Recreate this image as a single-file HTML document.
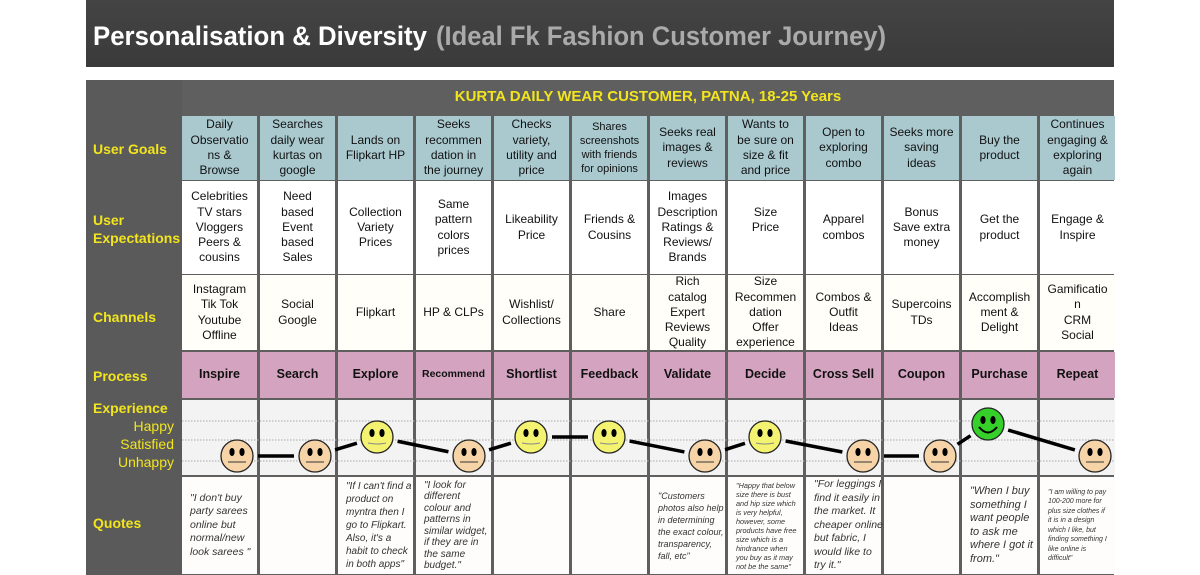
<!DOCTYPE html>
<html><head><meta charset="utf-8"><style>
*{margin:0;padding:0;box-sizing:border-box}
body{width:1200px;height:575px;background:#fff;position:relative;overflow:hidden;font-family:"Liberation Sans",sans-serif}
.a{position:absolute}
.c{position:absolute;display:flex;align-items:center;justify-content:center;text-align:center;font-size:12px;line-height:15.3px;color:#111;white-space:nowrap}
.c span{display:block}
.g{background:#a9c9cf}
.e{background:#fff}
.ch{background:#fffef8}
.p{background:#d4a3bf;font-weight:bold;font-size:12.5px}
.x{background:#f3f3f3}
.q{background:#fffdfb;font-style:italic;font-size:10.5px;line-height:13.5px;color:#333;justify-content:flex-start;text-align:left;padding-left:8px}
.l{position:absolute;color:#f2e51d;font-weight:bold;font-size:14px;line-height:18px}
</style></head><body>
<div class="a" style="left:86px;top:0;width:1028px;height:67px;background:linear-gradient(#444,#3a3a3a)"></div>
<svg class="a" style="left:0;top:0" width="1200" height="67"><text x="93" y="45" font-family="Liberation Sans" font-weight="bold" font-size="27" fill="#fff" textLength="334" lengthAdjust="spacingAndGlyphs">Personalisation &amp; Diversity</text><text x="436" y="45" font-family="Liberation Sans" font-weight="bold" font-size="27" fill="#aaa" textLength="450" lengthAdjust="spacingAndGlyphs">(Ideal Fk Fashion Customer Journey)</text></svg>
<div class="a" style="left:86px;top:80px;width:1028px;height:495px;background:#5a5a5a"></div>
<div class="a" style="left:182px;top:80px;width:932px;height:495px;background:#5f5f5f"></div>
<div class="a" style="left:182px;top:88px;width:932px;text-align:center;color:#f2e51d;font-weight:bold;font-size:15px">KURTA DAILY WEAR CUSTOMER, PATNA, 18-25 Years</div>
<div class="l" style="left:93px;top:140px">User Goals</div>
<div class="l" style="left:93px;top:211px">User<br>Expectations</div>
<div class="l" style="left:93px;top:308px">Channels</div>
<div class="l" style="left:93px;top:367px">Process</div>
<div class="l" style="left:93px;top:399px">Experience</div>
<div class="l" style="left:100px;top:417px;width:74px;text-align:right;font-weight:normal;font-size:14px;line-height:18px">Happy<br>Satisfied<br>Unhappy</div>
<div class="l" style="left:93px;top:514px">Quotes</div>
<div id="grid"></div>
<svg class="a" style="left:0;top:0" width="1200" height="575" id="sv"></svg>
<script>
var X=[182,260,338,416,494,572,650,728,806,884,962,1040],W=75;
var goals=["Daily<br>Observatio<br>ns &amp;<br>Browse","Searches<br>daily wear<br>kurtas on<br>google","Lands on<br>Flipkart HP","Seeks<br>recommen<br>dation in<br>the journey","Checks<br>variety,<br>utility and<br>price","<span style='font-size:11px;line-height:14px'>Shares<br>screenshots<br>with friends<br>for opinions</span>","Seeks real<br>images &amp;<br>reviews","Wants to<br>be sure on<br>size &amp; fit<br>and price","Open to<br>exploring<br>combo","Seeks more<br>saving<br>ideas","Buy the<br>product","Continues<br>engaging &amp;<br>exploring<br>again"];
var exp=["Celebrities<br>TV stars<br>Vloggers<br>Peers &amp;<br>cousins","Need<br>based<br>Event<br>based<br>Sales","Collection<br>Variety<br>Prices","Same<br>pattern<br>colors<br>prices","Likeability<br>Price","Friends &amp;<br>Cousins","Images<br>Description<br>Ratings &amp;<br>Reviews/<br>Brands","Size<br>Price<br><br>","Apparel<br>combos","Bonus<br>Save extra<br>money","Get the<br>product","Engage &amp;<br>Inspire"];
var chn=["Instagram<br>Tik Tok<br>Youtube<br>Offline","Social<br>Google","Flipkart","HP &amp; CLPs","Wishlist/<br>Collections","Share","Rich<br>catalog<br>Expert<br>Reviews<br>Quality","Size<br>Recommen<br>dation<br>Offer<br>experience","Combos &amp;<br>Outfit<br>Ideas","Supercoins<br>TDs","Accomplish<br>ment &amp;<br>Delight","Gamificatio<br>n<br>CRM<br>Social"];
var pr=["Inspire","Search","Explore","<span style='font-size:10.5px'>Recommend</span>","Shortlist","Feedback","Validate","Decide","Cross Sell","Coupon","Purchase","Repeat"];
var qs=["\"I don't buy<br>party sarees<br>online but<br>normal/new<br>look sarees \"","","<span style='font-size:10px;line-height:13px'>\"If I can't find a<br>product on<br>myntra then I<br>go to Flipkart.<br>Also, it's a<br>habit to check<br>in both apps\"</span>","<span style='font-size:10px;line-height:11.5px'>\"I look for<br>different<br>colour and<br>patterns in<br>similar widget,<br>if they are in<br>the same<br>budget.\"</span>","","","<span style='font-size:9px;line-height:12px'>\"Customers<br>photos also help<br>in determining<br>the exact colour,<br>transparency,<br>fall, etc\"</span>","<span style='font-size:7.3px;line-height:9px'>\"Happy that below<br>size there is bust<br>and hip size which<br>is very helpful,<br>however, some<br>products have free<br>size which is a<br>hindrance when<br>you buy as it may<br>not be the same\"</span>","<span style='font-size:10.5px;line-height:13.5px'>\"For leggings I<br>find it easily in<br>the market. It<br>cheaper online<br>but fabric, I<br>would like to<br>try it.\"</span>","","<span style='font-size:11px;line-height:13.5px'>\"When I buy<br>something I<br>want people<br>to ask me<br>where I got it<br>from.\"</span>","<span style='font-size:7px;line-height:9.5px'>\"I am willing to pay<br>100-200 more for<br>plus size clothes if<br>it is in a design<br>which I like, but<br>finding something I<br>like online is<br>difficult\"</span>"];
var h="";
function row(arr,cls,t,hh){for(var i=0;i<12;i++)h+='<div class="c '+cls+'" style="left:'+X[i]+'px;top:'+t+'px;width:'+W+'px;height:'+hh+'px"><div>'+arr[i]+'</div></div>';}
row(goals,"g",116,64);row(exp,"e",181,93);row(chn,"ch",275,75);row(pr,"p",352,46);
row(["","","","","","","","","","","",""],"x",400,75);row(qs,"q",477,97);
document.getElementById("grid").innerHTML=h;
var s="";
[421,440,461].forEach(function(y){s+='<line x1="182" y1="'+y+'" x2="1114" y2="'+y+'" stroke="#aaa" stroke-width="1" stroke-dasharray="1.5,1.5"/>';});
var F=[[237,456,0],[315,456,0],[377,437,1],[469,456,0],[531,437,1],[609,437,1],[705,456,0],[765,437,1],[863,456,0],[940,456,0],[988,424,2],[1095,456,0]];
for(var i=0;i<11;i++){var a=F[i],b=F[i+1],dx=b[0]-a[0],dy=b[1]-a[1],d=Math.sqrt(dx*dx+dy*dy),r=21;
s+='<line x1="'+(a[0]+dx/d*r)+'" y1="'+(a[1]+dy/d*r)+'" x2="'+(b[0]-dx/d*r)+'" y2="'+(b[1]-dy/d*r)+'" stroke="#000" stroke-width="3.5"/>';}
F.forEach(function(f){var x=f[0],y=f[1],t=f[2];var fill=t==0?"#f7d4a8":t==1?"#f4f271":"#35d12a";
s+='<circle cx="'+x+'" cy="'+y+'" r="16" fill="'+fill+'" stroke="#222" stroke-width="1.3"/>';
s+='<ellipse cx="'+(x-5)+'" cy="'+(y-4)+'" rx="2.6" ry="4" fill="#000"/><ellipse cx="'+(x+5)+'" cy="'+(y-4)+'" rx="2.6" ry="4" fill="#000"/>';
if(t==0)s+='<line x1="'+(x-9)+'" y1="'+(y+6)+'" x2="'+(x+9)+'" y2="'+(y+6)+'" stroke="#333" stroke-width="1"/>';
else if(t==1)s+='<path d="M'+(x-9)+' '+(y+6)+' Q'+x+' '+(y+8)+' '+(x+9)+' '+(y+6)+'" stroke="#888" fill="none" stroke-width="1"/>';
else s+='<path d="M'+(x-9)+' '+(y+3)+' Q'+x+' '+(y+14)+' '+(x+9)+' '+(y+3)+'" stroke="#000" fill="none" stroke-width="2"/>';});
document.getElementById("sv").innerHTML=s;
</script>
</body></html>
